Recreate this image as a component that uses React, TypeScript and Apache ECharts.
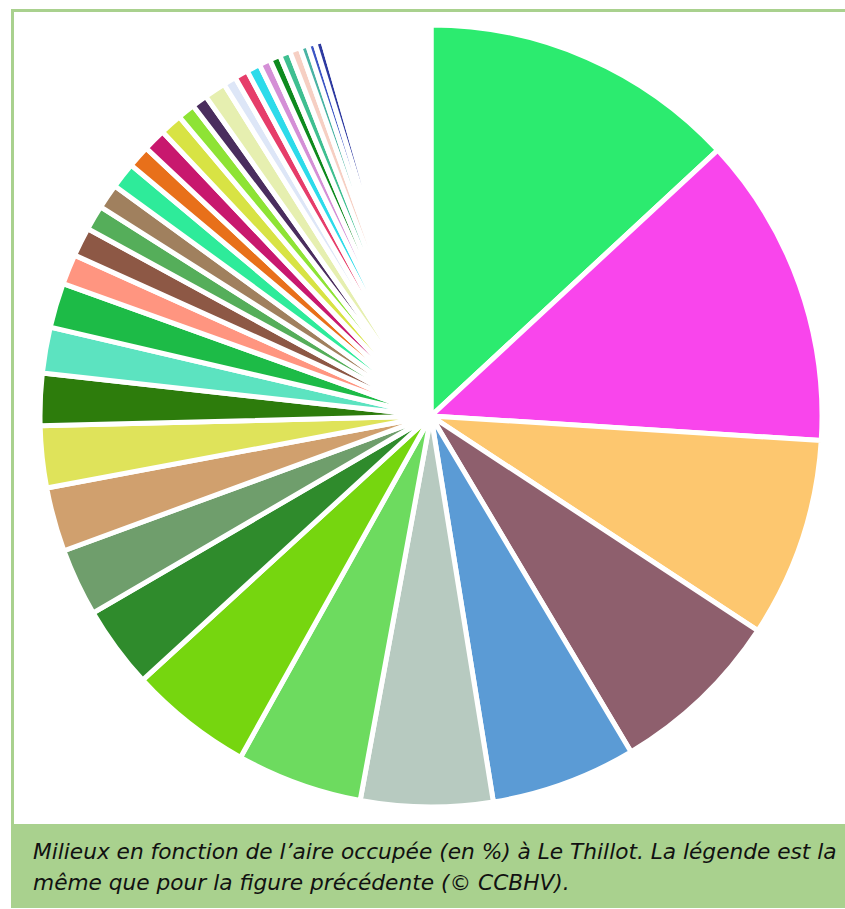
import React, { useEffect, useRef } from "react";
import * as echarts from "echarts";

// Milieux (catégories) – légende commune à la figure précédente
const categories: string[] = [
  "Milieu 1", "Milieu 2", "Milieu 3", "Milieu 4", "Milieu 5", "Milieu 6",
  "Milieu 7", "Milieu 8", "Milieu 9", "Milieu 10", "Milieu 11", "Milieu 12",
  "Milieu 13", "Milieu 14", "Milieu 15", "Milieu 16", "Milieu 17", "Milieu 18",
  "Milieu 19", "Milieu 20", "Milieu 21", "Milieu 22", "Milieu 23", "Milieu 24",
  "Milieu 25", "Milieu 26", "Milieu 27", "Milieu 28", "Milieu 29", "Milieu 30",
  "Milieu 31", "Milieu 32", "Milieu 33", "Milieu 34", "Milieu 35", "Milieu 36",
  "Milieu 37", "Milieu 38", "Milieu 39", "Milieu 40", "Milieu 41", "Milieu 42",
  "Milieu 43", "Milieu 44", "Milieu 45", "Milieu 46", "Milieu 47", "Milieu 48",
  "Milieu 49", "Milieu 50", "Autres",
];

// Aire occupée (%)
const values: number[] = [
  13.1, 12.9, 8.25, 7.2, 6.0, 5.45, 5.2, 5.1, 3.4, 2.8, 2.65, 2.55,
  2.15, 1.9, 1.85, 1.25, 1.2, 1.03, 1.03, 1.08, 0.92, 0.94, 0.92, 0.72,
  0.64, 0.89, 0.53, 0.56, 0.56, 0.47, 0.44, 0.44, 0.44, 0.33, 0.31, 0.33,
  0.15, 0.15, 0.14, 0.15, 0.14, 0.15, 0.14, 0.15, 0.14, 0.15, 0.14, 0.15,
  0.14, 0.14, 2.44,
];

const colors: string[] = [
  "#2ceb6f", "#f945ec", "#fdc76f", "#8e5f6d", "#5b9bd5", "#b7cac0",
  "#6ddb5f", "#76d60f", "#2f8b2c", "#6f9e6c", "#d0a06e", "#dfe35a",
  "#2d7c0c", "#5ce3c0", "#1dbb47", "#ff9580", "#8d5845", "#55ae5a",
  "#a0805e", "#2eeb9a", "#e8701a", "#c8186e", "#d8e344", "#8ee335",
  "#4a2d5e", "#e6efb0", "#dde6f7", "#e63d6a", "#2ddbea", "#d48fd6",
  "#0e8a1e", "#3fbf91", "#f6cfc3", "#4ab3a4", "#3c55c4", "#2e3aa0",
  "#e4b4c8", "#c4dcac", "#b4c4e4", "#e4d4a4", "#a8d8e4", "#d0b4e4",
  "#e4bca4", "#b4dcb4", "#a4bcec", "#ecc0d0", "#ccdcac", "#b0bce4",
  "#e0e0ac", "#c4b4e4", "#ffffff",
];

const captionLines: string[] = [
  "Milieux en fonction de l’aire occupée (en %) à Le Thillot. La légende est la",
  "même que pour la figure précédente (© CCBHV).",
];

const W = 845;
const H = 909;

export default function App() {
  const ref = useRef<HTMLDivElement>(null);

  useEffect(() => {
    if (!ref.current) return;
    const chart = echarts.init(ref.current, null, { renderer: "svg", width: W, height: H });
    const frameColor = "#a9d18e";
    chart.setOption({
      animation: false,
      backgroundColor: "#ffffff",
      tooltip: { show: false },
      series: [
        {
          type: "pie",
          center: [431, 416],
          radius: [0, 391],
          startAngle: 90,
          clockwise: true,
          avoidLabelOverlap: false,
          label: { show: false },
          labelLine: { show: false },
          emphasis: { disabled: true },
          silent: true,
          itemStyle: { borderColor: "#ffffff", borderWidth: 5 },
          data: categories.map((name, i) => ({
            name,
            value: values[i],
            itemStyle: { color: colors[i] },
          })),
        },
      ],
      graphic: [
        { type: "rect", shape: { x: 11, y: 9, width: W - 11, height: 3 }, style: { fill: frameColor } },
        { type: "rect", shape: { x: 11, y: 9, width: 3, height: 816 }, style: { fill: frameColor } },
        { type: "rect", shape: { x: 11, y: 824, width: W - 11, height: 84 }, style: { fill: frameColor } },
        ...captionLines.map((t, i) => ({
          type: "text",
          x: 33,
          y: 840 + i * 31,
          style: {
            text: t,
            fill: "#111111",
            fontStyle: "italic",
            fontSize: 21.7,
            fontFamily: "DejaVu Sans",
            verticalAlign: "top",
            align: "left",
          },
        })),
      ],
    });
    return () => chart.dispose();
  }, []);

  return (
    <div style={{ position: "absolute", left: 0, top: 0, width: W, height: H }}>
      <div ref={ref} style={{ width: W, height: H }} />
    </div>
  );
}
